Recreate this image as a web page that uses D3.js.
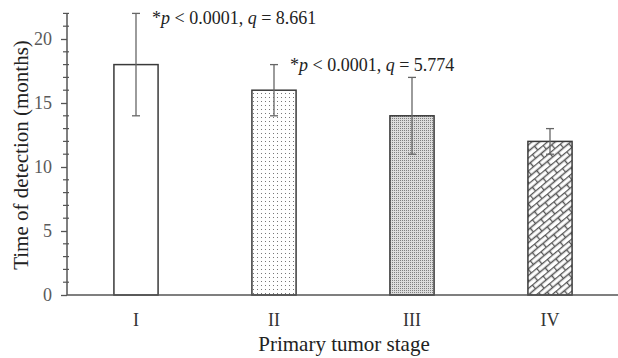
<!DOCTYPE html>
<html>
<head>
<meta charset="utf-8">
<script src="https://cdn.jsdelivr.net/npm/d3@7"></script>
<style>
  body { margin: 0; background: #fff; }
  text { font-family: "Liberation Serif", "Times New Roman", serif; }
</style>
</head>
<body>
<svg id="chart" width="618" height="358"></svg>
<script>
// data
const stages = ["I", "II", "III", "IV"];
const meanMonths = [18, 16, 14, 12];
const errHigh = [22, 18, 17, 13];
const errLow = [14, 14, 11, 11];
const fills = ["none-fill", "dots", "fine", "brick"];
const yTicks = [0, 5, 10, 15, 20];
const notes = [
  { stage: "I", y: 22, q: "8.661" },
  { stage: "II", y: 18, q: "5.774" }
];

const svg = d3.select("#chart");
const axisColor = "#555";

const x = d3.scaleBand().domain(stages).range([67, 619]).paddingInner(0.68).paddingOuter(0.34);
const y = d3.scaleLinear().domain([0, 22]).range([295, 13.4]);

// patterns
const defs = svg.append("defs");
const pDots = defs.append("pattern").attr("id", "dots").attr("patternUnits", "userSpaceOnUse")
  .attr("width", 4).attr("height", 4);
pDots.append("rect").attr("width", 4).attr("height", 4).attr("fill", "#fff");
pDots.append("rect").attr("x", 1).attr("y", 1).attr("width", 1).attr("height", 1).attr("fill", "#777");

const pFine = defs.append("pattern").attr("id", "fine").attr("patternUnits", "userSpaceOnUse")
  .attr("width", 2).attr("height", 2);
pFine.append("rect").attr("width", 2).attr("height", 2).attr("fill", "#dcdcdc");
pFine.append("rect").attr("width", 1).attr("height", 1).attr("fill", "#808080");

const pBrick = defs.append("pattern").attr("id", "brick").attr("patternUnits", "userSpaceOnUse")
  .attr("width", 14).attr("height", 10).attr("patternTransform", "rotate(-40)");
pBrick.append("rect").attr("width", 14).attr("height", 10).attr("fill", "#fff");
pBrick.append("path")
  .attr("d", "M0,0.5H14M0,5.5H14M0.5,0.5V5.5M7.5,5.5V10")
  .attr("stroke", "#555").attr("stroke-width", 1.4).attr("fill", "none");

// bars
svg.append("g").selectAll("rect").data(stages).join("rect")
  .attr("x", d => x(d))
  .attr("y", (d, i) => y(meanMonths[i]))
  .attr("width", x.bandwidth())
  .attr("height", (d, i) => y(0) - y(meanMonths[i]))
  .attr("fill", (d, i) => fills[i] === "none-fill" ? "#fff" : `url(#${fills[i]})`)
  .attr("stroke", "#3a3a3a")
  .attr("stroke-width", 1.5);

// error bars
const eb = svg.append("g").attr("stroke", "#666").attr("stroke-width", 1.3);
stages.forEach((s, i) => {
  const cx = x(s) + x.bandwidth() / 2;
  eb.append("line").attr("x1", cx).attr("x2", cx).attr("y1", y(errHigh[i])).attr("y2", y(errLow[i]));
  eb.append("line").attr("x1", cx - 4).attr("x2", cx + 4).attr("y1", y(errHigh[i])).attr("y2", y(errHigh[i]));
  eb.append("line").attr("x1", cx - 4).attr("x2", cx + 4).attr("y1", y(errLow[i])).attr("y2", y(errLow[i]));
});

// y axis
const yAxis = svg.append("g").attr("transform", "translate(67,0)")
  .call(d3.axisLeft(y).tickValues(yTicks).tickSize(6).tickPadding(9));
yAxis.select(".domain").attr("stroke", axisColor).attr("stroke-width", 1.5).attr("d", `M0,${y(22)}V${y(0)}`);
yAxis.selectAll(".tick line").attr("stroke", axisColor).attr("stroke-width", 1.3);
yAxis.selectAll(".tick text").attr("fill", "#5a5a5a").style("font-size", "18px")
  .style("font-family", "Liberation Serif, serif");
// minor ticks
yAxis.append("g").selectAll("line").data(d3.range(1, 23).filter(v => v % 5 !== 0)).join("line")
  .attr("x1", -4).attr("x2", 2).attr("y1", d => y(d)).attr("y2", d => y(d))
  .attr("stroke", axisColor).attr("stroke-width", 1.2);

// x axis
const xAxis = svg.append("g").attr("transform", `translate(0,${y(0)})`)
  .call(d3.axisBottom(x).tickSize(0).tickPadding(18));
xAxis.select(".domain").attr("stroke", axisColor).attr("stroke-width", 1.5).attr("d", "M67,0H618");
xAxis.selectAll(".tick text").attr("fill", "#333").style("font-size", "18px")
  .style("font-family", "Liberation Serif, serif");

// axis titles
svg.append("text").attr("x", 344).attr("y", 351).attr("text-anchor", "middle")
  .attr("fill", "#222").style("font-size", "21px").text("Primary tumor stage");
svg.append("text").attr("transform", "translate(28,155) rotate(-90)").attr("text-anchor", "middle")
  .attr("fill", "#222").style("font-size", "21px").text("Time of detection (months)");

// annotations
notes.forEach((n, i) => {
  const t = svg.append("text")
    .attr("x", x(n.stage) + x.bandwidth() / 2 + 16)
    .attr("y", y(n.y) + (i === 0 ? 11 : 6))
    .attr("fill", "#222").style("font-size", "18px");
  t.append("tspan").text("*");
  t.append("tspan").attr("font-style", "italic").text("p");
  t.append("tspan").text(" < 0.0001, ");
  t.append("tspan").attr("font-style", "italic").text("q");
  t.append("tspan").text(" = " + n.q);
});
</script>
</body>
</html>
